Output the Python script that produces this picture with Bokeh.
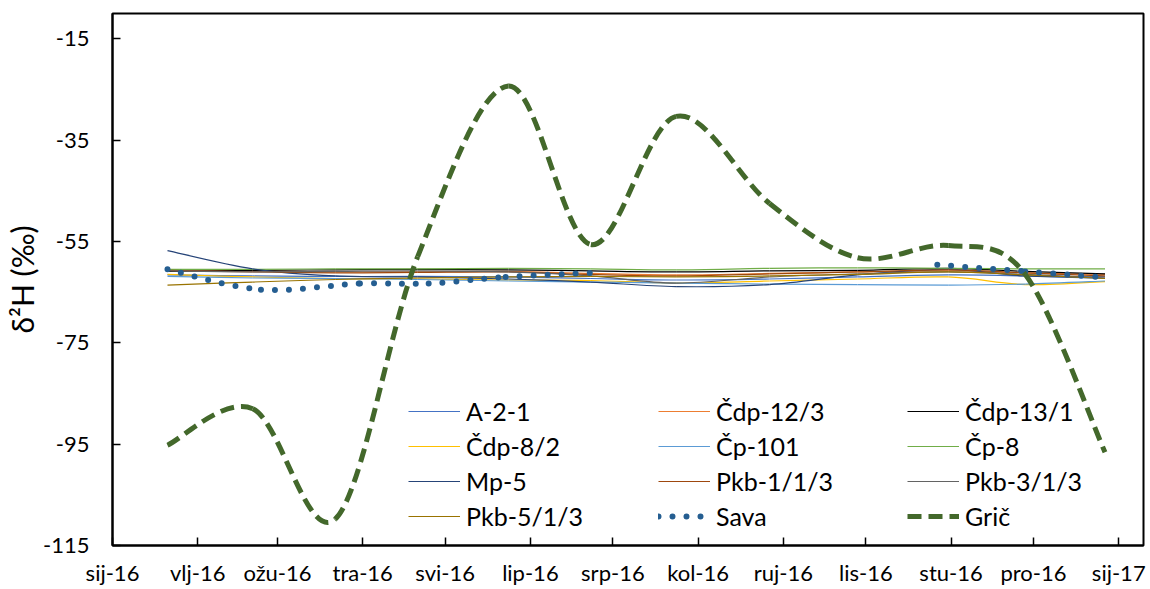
import pandas as pd
from bokeh.plotting import figure
from bokeh.models import Range1d, FixedTicker, Legend, LegendItem, ColumnDataSource
from bokeh.embed import file_html
from bokeh.resources import INLINE

# ---------------- data ----------------
month_ticks = ["2016-01-01", "2016-02-01", "2016-03-01", "2016-04-01", "2016-05-01",
               "2016-06-01", "2016-07-01", "2016-08-01", "2016-09-01", "2016-10-01",
               "2016-11-01", "2016-12-01", "2017-01-01"]
month_labels = ["sij-16", "vlj-16", "ožu-16", "tra-16", "svi-16", "lip-16", "srp-16",
                "kol-16", "ruj-16", "lis-16", "stu-16", "pro-16", "sij-17"]

sample_dates = ["2016-01-21", "2016-02-21", "2016-03-22", "2016-04-21", "2016-05-24",
                "2016-06-23", "2016-07-24", "2016-08-27", "2016-09-28", "2016-10-31",
                "2016-11-28", "2016-12-27"]

a_2_1     = [-61.6, -61.8, -61.9, -61.9, -62.0, -62.3, -62.6, -62.4, -62.0, -61.6, -61.8, -62.3]
cdp_12_3  = [-60.6, -60.8, -61.0, -61.0, -60.9, -61.3, -61.6, -61.3, -61.0, -60.8, -61.2, -61.5]
cdp_13_1  = [-60.9, -60.7, -60.6, -60.5, -60.6, -60.8, -61.0, -60.8, -60.7, -60.3, -60.9, -61.4]
cdp_8_2   = [-61.5, -62.0, -62.3, -62.4, -62.6, -62.7, -63.2, -62.8, -62.4, -62.0, -63.5, -62.9]
cp_101    = [-61.9, -62.2, -62.3, -62.5, -62.8, -63.0, -63.2, -63.4, -63.5, -63.6, -63.4, -62.8]
cp_8      = [-60.5, -60.5, -60.4, -60.4, -60.3, -60.4, -60.6, -60.3, -60.2, -60.3, -60.4, -60.4]
mp_5      = [-56.8, -60.4, -61.8, -62.0, -62.4, -63.0, -63.9, -63.5, -61.6, -60.5, -61.8, -62.0]
pkb_1_1_3 = [-60.7, -61.0, -61.2, -61.1, -61.0, -61.5, -61.8, -61.4, -61.0, -60.6, -61.2, -61.8]
pkb_3_1_3 = [-60.8, -61.0, -60.9, -60.8, -61.0, -61.8, -63.2, -62.0, -61.4, -61.0, -61.5, -62.2]
pkb_5_1_3 = [-63.6, -63.0, -62.5, -62.2, -62.0, -61.9, -62.0, -61.8, -61.5, -61.0, -61.6, -62.3]

gric      = [-95.2, -88.0, -109.8, -58.0, -24.3, -55.6, -30.3, -47.5, -58.2, -55.8, -61.5, -96.6]

sava_dates_a = ["2016-01-21", "2016-02-24", "2016-03-31", "2016-04-25", "2016-05-23", "2016-06-23"]
sava_a       = [-60.5, -64.5, -63.3, -63.3, -62.0, -61.2]
sava_dates_b = ["2016-10-27", "2016-11-28", "2016-12-27"]
sava_b       = [-59.6, -60.9, -62.1]

series_names = ["A-2-1", "Čdp-12/3", "Čdp-13/1", "Čdp-8/2", "Čp-101", "Čp-8",
                "Mp-5", "Pkb-1/1/3", "Pkb-3/1/3", "Pkb-5/1/3"]
series_values = [a_2_1, cdp_12_3, cdp_13_1, cdp_8_2, cp_101, cp_8,
                 mp_5, pkb_1_1_3, pkb_3_1_3, pkb_5_1_3]
series_colors = ["#4472C4", "#ED7D31", "#000000", "#FFC000", "#5B9BD5", "#70AD47",
                 "#264478", "#9E480E", "#636363", "#997300"]

y_ticks = [-115, -95, -75, -55, -35, -15]
y_labels = ["-115", "-95", "-75", "-55", "-35", "-15"]
y_title = "δ²H (‰)"

# ---------------- helpers ----------------
origin = pd.Timestamp("2016-01-01")


def to_days(dates):
    return [float((pd.Timestamp(d) - origin).days) for d in dates]


def smooth_source(xs, ys):
    """Bezier segments (Excel-like smoothed line) built from the data points."""
    n = len(xs)
    d = dict(x0=[], y0=[], x1=[], y1=[], cx0=[], cy0=[], cx1=[], cy1=[])
    for i in range(n - 1):
        pm = i - 1 if i > 0 else i
        pp = i + 2 if i + 2 < n else i + 1
        d["x0"].append(xs[i]); d["y0"].append(ys[i])
        d["x1"].append(xs[i + 1]); d["y1"].append(ys[i + 1])
        d["cx0"].append(xs[i] + (xs[i + 1] - xs[pm]) / 6.0)
        d["cy0"].append(ys[i] + (ys[i + 1] - ys[pm]) / 6.0)
        d["cx1"].append(xs[i + 1] - (xs[pp] - xs[i]) / 6.0)
        d["cy1"].append(ys[i + 1] - (ys[pp] - ys[i]) / 6.0)
    return ColumnDataSource(d)


def smooth(src, **kw):
    return p.bezier(x0="x0", y0="y0", x1="x1", y1="y1", cx0="cx0", cy0="cy0",
                    cx1="cx1", cy1="cy1", source=src, **kw)


FONT = "Lato"

tick_days = to_days(month_ticks)
x_days = to_days(sample_dates)

p = figure(width=1150, height=589, output_backend="svg", toolbar_location=None,
           x_range=Range1d(0, 375.0), y_range=Range1d(-115, -10),
           min_border_left=112, min_border_right=7, min_border_top=13, min_border_bottom=44)

p.xgrid.visible = False
p.ygrid.visible = False
p.outline_line_color = "black"
p.outline_line_width = 2
p.background_fill_color = "white"
p.border_fill_color = "white"

# axes
p.xaxis.ticker = FixedTicker(ticks=tick_days)
p.xaxis.major_label_overrides = {t: lab for t, lab in zip(tick_days, month_labels)}
p.yaxis.ticker = FixedTicker(ticks=y_ticks)
p.yaxis.major_label_overrides = {t: lab for t, lab in zip(y_ticks, y_labels)}
for ax in (p.xaxis[0], p.yaxis[0]):
    ax.axis_line_color = "black"
    ax.axis_line_width = 2
    ax.major_tick_line_color = "black"
    ax.major_tick_line_width = 1.5
    ax.major_tick_in = 8
    ax.major_tick_out = 0
    ax.minor_tick_in = 0
    ax.minor_tick_out = 0
    ax.major_label_text_font = FONT
    ax.major_label_text_font_size = "22px"
    ax.major_label_text_color = "#000000"
p.xaxis.major_label_standoff = 13
p.yaxis.major_label_standoff = 23
p.yaxis.axis_label = y_title
p.yaxis.axis_label_text_font = FONT
p.yaxis.axis_label_text_font_size = "30px"
p.yaxis.axis_label_text_font_style = "normal"
p.yaxis.axis_label_text_color = "#000000"
p.yaxis.axis_label_standoff = 0

legend_items = []

# groundwater series
for name, vals, col in zip(series_names, series_values, series_colors):
    r = smooth(smooth_source(x_days, vals), line_color=col, line_width=1.2)
    legend_items.append(LegendItem(label=name, renderers=[r]))

# Sava (dotted, with a gap)
sava_col = "#255E91"
sava_rs = []
for dts, vals in ((sava_dates_a, sava_a), (sava_dates_b, sava_b)):
    sava_rs.append(smooth(smooth_source(to_days(dts), vals), line_color=sava_col,
                          line_width=6, line_dash="0 14", line_cap="round"))
legend_items.append(LegendItem(label="Sava", renderers=[sava_rs[0]]))

# Grič (dashed)
gric_col = "#43682B"
r = smooth(smooth_source(x_days, gric), line_color=gric_col, line_width=5, line_dash="14 7")
legend_items.append(LegendItem(label="Grič", renderers=[r]))

# legend: 3 columns, row-major order
col_x = [296, 546, 795]
for c in range(3):
    items = [legend_items[i] for i in range(c, len(legend_items), 3)]
    leg = Legend(items=items, location=(col_x[c], 14), orientation="vertical",
                 label_text_font=FONT, label_text_font_size="25px", label_text_color="#000000",
                 glyph_width=52, glyph_height=24, label_height=24, label_standoff=6,
                 spacing=5, padding=0, margin=0,
                 border_line_alpha=0, background_fill_alpha=0)
    p.add_layout(leg)

open("out.html", "w").write(file_html(p, INLINE))
